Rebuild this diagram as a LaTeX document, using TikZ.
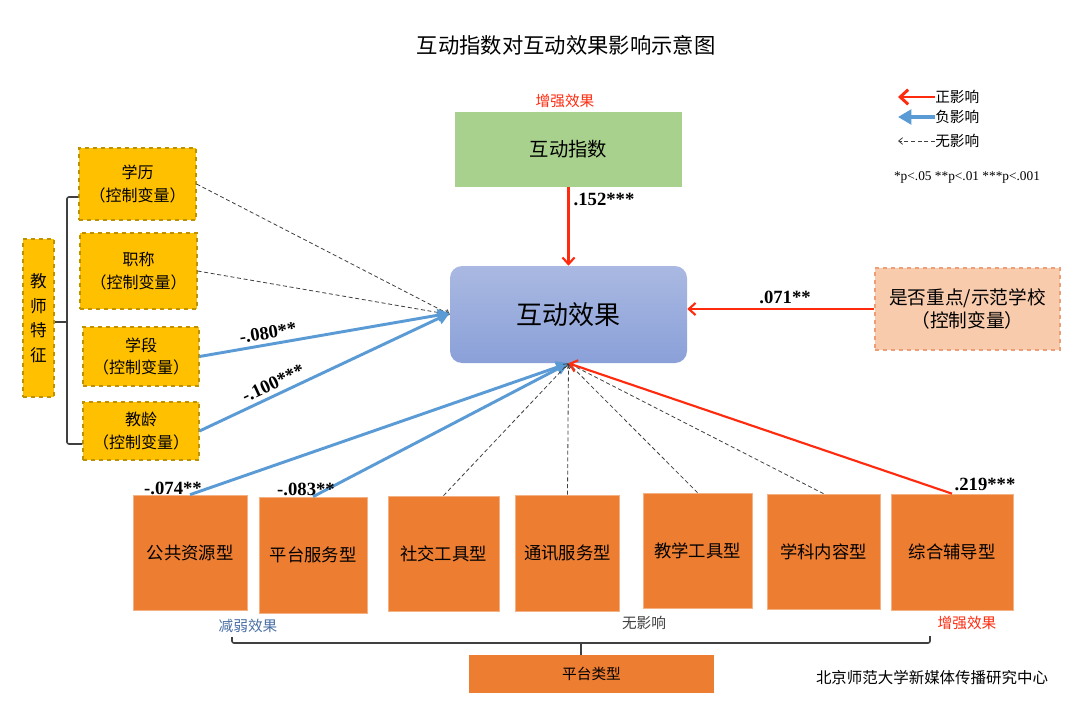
\documentclass[tikz,border=0pt]{standalone}
\usepackage{fontspec}
\setmainfont{Liberation Serif}
\newfontfamily\cjk{Noto Sans CJK SC}
\usetikzlibrary{arrows.meta}
\newdimen\pxu \pxu=0.75pt
\definecolor{redc}{HTML}{FF2B0F}
\definecolor{bluec}{HTML}{5B9BD5}
\definecolor{orangec}{HTML}{ED7D31}
\definecolor{orangeb}{HTML}{F4B183}
\definecolor{goldc}{HTML}{FFC000}
\definecolor{goldb}{HTML}{BF9000}
\definecolor{greenc}{HTML}{A9D18E}
\definecolor{peachc}{HTML}{F8CBAD}
\definecolor{peachb}{HTML}{EE9E75}
\definecolor{bluetop}{HTML}{AAB9E2}
\definecolor{bluebot}{HTML}{8AA0D8}
\definecolor{weakc}{HTML}{4A6FA5}
\definecolor{darkg}{HTML}{404040}
\begin{document}
\begin{tikzpicture}[x=0.75pt,y=-0.75pt,
  base/.style={inner sep=0pt, align=center, text=black},
  ctrlbox/.style={base, fill=goldc, draw=goldb, dashed, line width=0.8pt,
    font=\cjk\fontsize{12}{17}\selectfont},
  platbox/.style={base, fill=orangec, draw=orangeb, line width=0.5pt,
    font=\cjk\fontsize{13}{16}\selectfont},
  numlab/.style={inner sep=0pt, font=\bfseries\fontsize{14}{16}\selectfont},
  cjklab/.style={inner sep=0pt, font=\cjk\fontsize{11}{13}\selectfont},
  legtext/.style={inner sep=0pt, anchor=west, font=\cjk\fontsize{11}{13}\selectfont},
  redarr/.style={draw=redc, line width=1.6pt, -{Straight Barb[length=5pt,width=9pt]}},
  bluearr/.style={draw=bluec, line width=2.2pt, -{Triangle[length=9pt,width=9pt]}},
  nullarr/.style={draw=darkg, line width=0.6pt, dash pattern=on 3pt off 2pt,
    -{Straight Barb[length=3pt,width=5pt]}},
  legred/.style={draw=redc, line width=2.2pt, -{Straight Barb[length=6pt,width=11pt]}},
  legblue/.style={draw=bluec, line width=2.6pt, -{Triangle[length=10pt,width=11pt]}},
  brk/.style={draw=darkg, line width=1.2pt, rounded corners=1.5pt}
]
\useasboundingbox[fill=white] (0,0) rectangle (1080,720);

% title
\node[inner sep=0pt, font=\cjk\fontsize{16}{18}\selectfont] (title) at (566,45) {互动指数对互动效果影响示意图};

% top green
\node[cjklab, text=redc] (zq1) at (565,101) {增强效果};
\node[base, fill=greenc, minimum width=227\pxu, minimum height=75\pxu,
  font=\cjk\fontsize{14.5}{16}\selectfont] (zs) at (568.5,149.5) {互动指数};

% center
\node[base, rounded corners=9pt, top color=bluetop, bottom color=bluebot,
  minimum width=237\pxu, minimum height=97\pxu,
  font=\cjk\fontsize{19.5}{22}\selectfont] (ce) at (568.5,314.5) {互动效果};

% right
\node[base, fill=peachc, draw=peachb, dashed, line width=0.8pt,
  minimum width=185\pxu, minimum height=82\pxu,
  font=\cjk\fontsize{14}{17}\selectfont] (sch) at (967.5,309) {是否重点/示范学校\\（控制变量）};

% left controls
\node[ctrlbox, minimum width=117\pxu, minimum height=72\pxu] (xl) at (137.5,184) {学历\\（控制变量）};
\node[ctrlbox, minimum width=117\pxu, minimum height=76\pxu] (zc) at (138.5,271) {职称\\（控制变量）};
\node[ctrlbox, minimum width=116\pxu, minimum height=59\pxu] (xd) at (141,356.5) {学段\\（控制变量）};
\node[ctrlbox, minimum width=116\pxu, minimum height=58\pxu] (jl) at (141,431) {教龄\\（控制变量）};
\node[ctrlbox, minimum width=31\pxu, minimum height=158\pxu,
  font=\cjk\fontsize{12.5}{18.5}\selectfont] (js) at (38.5,318) {教\\师\\特\\征};

% left bracket
\coordinate (b1) at (67,197);
\coordinate (b2) at (67,444);
\coordinate (b3) at (67,322);
\draw[brk] (xl.west |- b1) -- (b1) -- (b2) -- (jl.west |- b2);
\draw[brk] (b3) -- (js.east |- b3);

% bottom platform boxes
\node[platbox, minimum width=114\pxu, minimum height=115\pxu] (p1) at (190,552.5) {公共资源型};
\node[platbox, minimum width=108\pxu, minimum height=116\pxu] (p2) at (313,555) {平台服务型};
\node[platbox, minimum width=111\pxu, minimum height=115\pxu] (p3) at (443.5,553.5) {社交工具型};
\node[platbox, minimum width=104\pxu, minimum height=116\pxu] (p4) at (567.5,553) {通讯服务型};
\node[platbox, minimum width=109\pxu, minimum height=115\pxu] (p5) at (697.5,550.5) {教学工具型};
\node[platbox, minimum width=113\pxu, minimum height=115\pxu] (p6) at (823.5,551.5) {学科内容型};
\node[platbox, minimum width=122\pxu, minimum height=116\pxu] (p7) at (952,552) {综合辅导型};

% bottom labels and bracket
\node[cjklab, text=weakc] (jr) at (248,626) {减弱效果};
\node[cjklab, text=darkg] (wy) at (644,623) {无影响};
\node[cjklab, text=redc] (zq2) at (967,623) {增强效果};
\node[base, fill=orangec, minimum width=245\pxu, minimum height=38\pxu,
  font=\cjk\fontsize{11}{13}\selectfont] (pt) at (591.5,674) {平台类型};
\coordinate (c1) at (232,637);
\coordinate (c2) at (232,643);
\coordinate (c3) at (930,643);
\coordinate (c4) at (930,636);
\coordinate (c5) at (581,643);
\draw[brk] (c1) -- (c2) -- (c3) -- (c4);
\draw[brk] (c5) -- (c5 |- pt.north);

\node[inner sep=0pt, font=\cjk\fontsize{11.6}{13}\selectfont] (org) at (932,678) {北京师范大学新媒体传播研究中心};

% connectors
\draw[redarr] (zs.south) -- (ce.north);
\draw[redarr] (sch.west) -- (ce.east |- sch.west);
\draw[nullarr] (xl.east) -- (ce.west);
\draw[nullarr] (zc.east) -- (ce.west);
\draw[bluearr] (xd.east) -- ([yshift=1pt]ce.west);
\draw[bluearr] (jl.east) -- ([yshift=1pt]ce.west);
\draw[bluearr] (p1.north) -- (ce.south);
\draw[bluearr] (p2.north) -- (ce.south);
\draw[nullarr] (p3.north) -- (ce.south);
\draw[nullarr] (p4.north) -- (ce.south);
\draw[nullarr] (p5.north) -- (ce.south);
\draw[nullarr] (p6.north) -- (ce.south);
\draw[redarr] (p7.north) -- (ce.south);

% coefficient labels
\node[numlab] (l152) at (604,199) {.152***};
\node[numlab] (l071) at (785,297) {.071**};
\node[numlab, rotate=9] (l080) at (268,333) {-.080**};
\node[numlab, rotate=25] (l100) at (273,383) {-.100***};
\node[numlab] (l074) at (173,488) {-.074**};
\node[numlab] (l083) at (306,489) {-.083**};
\node[numlab] (l219) at (985,484) {.219***};

% legend
\node[legtext] (lg1) at (935,97) {正影响};
\node[legtext] (lg2) at (935,117) {负影响};
\node[legtext] (lg3) at (935,141) {无影响};
\coordinate (e1) at (898,97);
\coordinate (e2) at (898,117);
\coordinate (e3) at (898,141);
\draw[legred] (lg1.west) -- (e1);
\draw[legblue] (lg2.west) -- (e2);
\draw[nullarr] (lg3.west) -- (e3);
\node[inner sep=0pt, font=\fontsize{10}{12}\selectfont] (pv) at (967,177) {*p<.05 **p<.01 ***p<.001};
\end{tikzpicture}
\end{document}
